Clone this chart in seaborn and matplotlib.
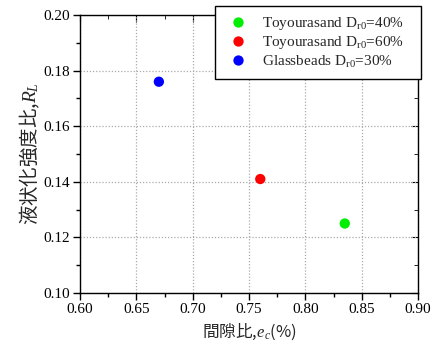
import matplotlib
matplotlib.use("Agg")
import matplotlib.pyplot as plt
import seaborn as sns
import pandas as pd
from matplotlib.ticker import MultipleLocator

sns.set_style("white")
plt.rcParams['font.family'] = ['Liberation Serif', 'Noto Sans CJK JP']
plt.rcParams['mathtext.fontset'] = 'custom'
plt.rcParams['mathtext.rm'] = 'Liberation Serif'
plt.rcParams['mathtext.it'] = 'Liberation Serif:italic'

labels = ['Toyourasand D$_{\\mathrm{r0}}$=40%', 'Toyourasand D$_{\\mathrm{r0}}$=60%', 'Glassbeads D$_{\\mathrm{r0}}$=30%']
void_ratio = [0.835, 0.76, 0.67]
strength = [0.125, 0.141, 0.176]
colors = ['#00ee00', '#ff0000', '#0000ff']
xticks = [0.60, 0.65, 0.70, 0.75, 0.80, 0.85, 0.90]
yticks = [0.10, 0.12, 0.14, 0.16, 0.18, 0.20]

df = pd.DataFrame({'x': void_ratio, 'y': strength, 'label': labels})

fig = plt.figure(figsize=(4.38, 3.45), dpi=100)
ax = fig.add_axes([80/438, 1-293/345, 338/438, 278/345])

sns.scatterplot(data=df, x='x', y='y', hue='label', palette=dict(zip(labels, colors)),
                s=55, edgecolor='none', ax=ax, zorder=3)

ax.set_xlim(0.60, 0.90)
ax.set_ylim(0.10, 0.20)
ax.set_xticks(xticks)
ax.set_yticks(yticks)
ax.set_xticklabels([f'{v:.2f}' for v in xticks])
ax.set_yticklabels([f'{v:.2f}' for v in yticks])
ax.xaxis.set_minor_locator(MultipleLocator(0.025))
ax.yaxis.set_minor_locator(MultipleLocator(0.01))
ax.tick_params(which='both', direction='out', left=True, bottom=True, colors='black', labelsize=11, pad=2.5)
ax.tick_params(which='major', length=5, width=1)
ax.tick_params(which='minor', length=3, width=1)
for s in ax.spines.values():
    s.set_color('black')
    s.set_linewidth(1)

ax.grid(True, which='major', linestyle=(0, (1, 1.5)), color='#aaaaaa', linewidth=0.9)

top = ax.secondary_xaxis('top')
top.set_xticks(xticks)
top.xaxis.set_minor_locator(MultipleLocator(0.025))
top.tick_params(which='both', direction='in', labeltop=False, colors='black')
top.tick_params(which='major', length=5)
top.tick_params(which='minor', length=3)
top.spines['top'].set_visible(False)
right = ax.secondary_yaxis('right')
right.set_yticks(yticks)
right.yaxis.set_minor_locator(MultipleLocator(0.01))
right.tick_params(which='both', direction='in', labelright=False, colors='black')
right.tick_params(which='major', length=5)
right.tick_params(which='minor', length=3)
right.spines['right'].set_visible(False)

ax.set_xlabel('間隙比,$e_c$(%)', fontsize=12, family=['Noto Sans CJK JP'], labelpad=4)
ax.set_ylabel('液状化強度比,$R_L$', fontsize=14, family=['Noto Sans CJK JP'], labelpad=1)

handles, lbls = ax.get_legend_handles_labels()
leg = ax.legend(handles, lbls, loc='upper left',
                bbox_to_anchor=(215/438, 1-78/345, 206/438, 72/345), mode='expand',
                bbox_transform=fig.transFigure, frameon=True, fancybox=False,
                edgecolor='black', framealpha=1, fontsize=11, borderpad=0.6,
                borderaxespad=0, handlelength=1.8, handletextpad=0.65,
                labelspacing=0.15, markerscale=1)
leg.get_frame().set_linewidth(1)
leg.set_zorder(10)

fig.savefig('out.png', dpi=100)
